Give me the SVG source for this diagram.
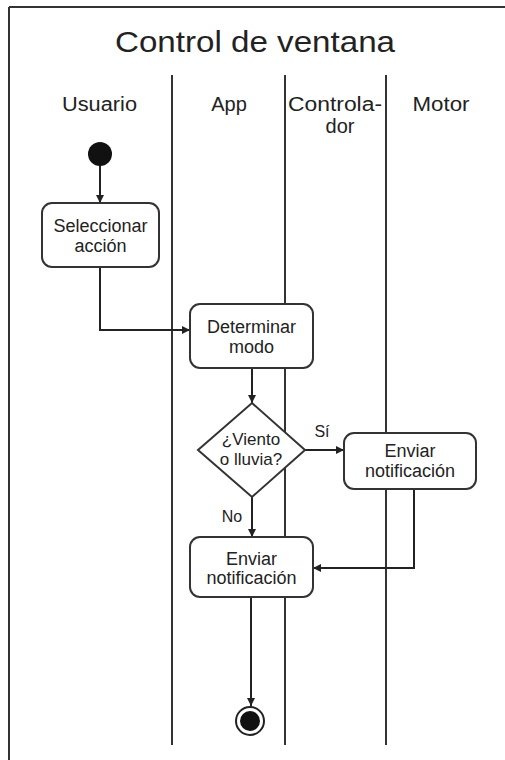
<svg xmlns="http://www.w3.org/2000/svg" width="505" height="760" viewBox="0 0 505 760">
<defs>
<marker id="arr" viewBox="0 0 10 10" refX="10" refY="5" markerWidth="9" markerHeight="8" markerUnits="userSpaceOnUse" orient="auto">
<path d="M0,0 L10,5 L0,10 z" fill="#222"/>
</marker>
</defs>
<style>
text{font-family:"Liberation Sans",Arial,sans-serif;fill:#222;text-anchor:middle}
.t{font-size:18px}
.lane{font-size:20px}
.box{fill:#fff;stroke:#333;stroke-width:2}
.ln{stroke:#333;stroke-width:2;fill:none}
.c{stroke:#222;stroke-width:2;fill:none;marker-end:url(#arr)}
</style>
<rect width="505" height="760" fill="#fff"/>
<g id="frame">
<line class="ln" x1="9" y1="7" x2="505" y2="7"/>
<line class="ln" x1="9" y1="7" x2="9" y2="760"/>
<text x="255" y="52" style="font-size:29px" textLength="280" lengthAdjust="spacingAndGlyphs">Control de ventana</text>
</g>
<g id="lanes">
<line class="ln" x1="172" y1="75" x2="172" y2="745"/>
<line class="ln" x1="285" y1="75" x2="285" y2="745"/>
<line class="ln" x1="386" y1="75" x2="386" y2="745"/>
<text class="lane" x="99.5" y="111" textLength="75" lengthAdjust="spacingAndGlyphs">Usuario</text>
<text class="lane" x="229" y="111">App</text>
<text class="lane" x="335" y="111" textLength="94" lengthAdjust="spacingAndGlyphs">Controla-</text>
<text class="lane" x="340" y="133">dor</text>
<text class="lane" x="441" y="111" textLength="57" lengthAdjust="spacingAndGlyphs">Motor</text>
</g>
<g id="connectors">
<line class="c" x1="100" y1="165" x2="100" y2="203"/>
<polyline class="c" points="100,267 100,330 190,330"/>
<line class="c" x1="252" y1="368" x2="252" y2="403"/>
<line class="c" x1="305" y1="450" x2="344" y2="450"/>
<line class="c" x1="252" y1="497" x2="252" y2="537"/>
<polyline class="c" points="414,489 414,568 313,568"/>
<line class="c" x1="251" y1="597" x2="251" y2="706"/>
<text class="t" x="322" y="437" style="font-size:16px">Sí</text>
<text class="t" x="232" y="522" style="font-size:16px">No</text>
</g>
<g id="start">
<circle cx="100" cy="154" r="12" fill="#111"/>
</g>
<g id="seleccionar">
<rect class="box" x="42" y="203" width="117" height="64" rx="10"/>
<text class="t" x="100.5" y="232">Seleccionar</text>
<text class="t" x="100.5" y="252">acción</text>
</g>
<g id="determinar">
<rect class="box" x="190" y="304" width="123" height="64" rx="10"/>
<text class="t" x="251.5" y="333">Determinar</text>
<text class="t" x="251.5" y="353">modo</text>
</g>
<g id="decision">
<polygon class="box" points="252,403 305,450 252,497 198,450"/>
<text class="t" x="251" y="445" style="font-size:17px">¿Viento</text>
<text class="t" x="251" y="465" style="font-size:17px">o lluvia?</text>
</g>
<g id="enviar-motor">
<rect class="box" x="344" y="433" width="132" height="56" rx="10"/>
<text class="t" x="410" y="457">Enviar</text>
<text class="t" x="410" y="477">notificación</text>
</g>
<g id="enviar-app">
<rect class="box" x="190" y="537" width="123" height="60" rx="10"/>
<text class="t" x="251.5" y="565">Enviar</text>
<text class="t" x="251.5" y="584">notificación</text>
</g>
<g id="end">
<circle cx="250" cy="721" r="14" fill="#fff" stroke="#222" stroke-width="2"/>
<circle cx="250" cy="721" r="10" fill="#111"/>
</g>
</svg>
